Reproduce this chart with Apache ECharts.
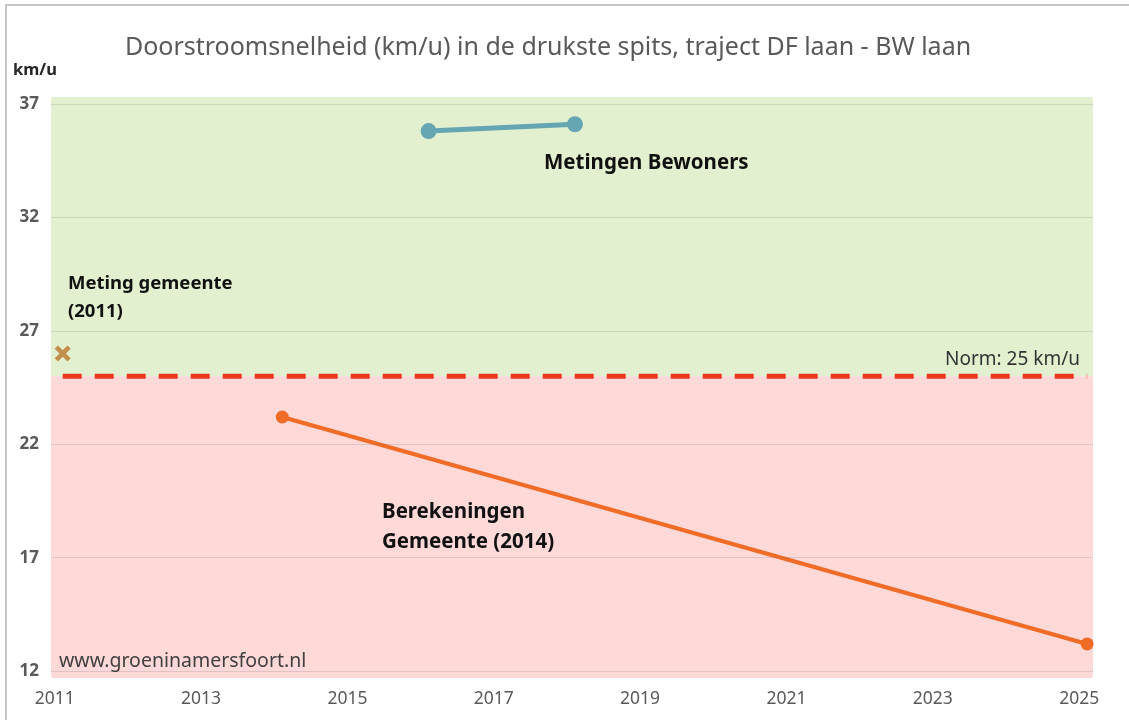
<!DOCTYPE html>
<html>
<head>
<meta charset="utf-8">
<script src="https://cdn.jsdelivr.net/npm/echarts@6/dist/echarts.min.js"></script>
<style>
  html, body { margin: 0; padding: 0; background: #fff; }
  #main { width: 1129px; height: 720px; }
</style>
</head>
<body>
<div id="main"></div>
<script>
// data
var yearTicks = [2011, 2013, 2015, 2017, 2019, 2021, 2023, 2025]
var speedTicks = [12, 17, 22, 27, 32, 37]
var bewonersYears = [2016, 2018]
var bewonersSpeed = [35.8, 36.1]
var gemeente2014Years = [2014, 2025]
var gemeente2014Speed = [23.2, 13.2]
var gemeente2011Years = [2011]
var gemeente2011Speed = [26]
var normYears = [2011, 2025]
var normSpeed = 25
var bandEdges = [11.7, 25, 37.3]

var font = '"Noto Sans", "Open Sans", sans-serif'

function pairs (xs, ys) {
  return xs.map(function (x, i) { return [x, Array.isArray(ys) ? ys[i] : ys] })
}

function label (x, y, text, font, fill, align, lineHeight) {
  return {
    type: 'text',
    x: x,
    y: y,
    z: 100,
    silent: true,
    style: {
      text: text,
      font: font,
      fill: fill,
      lineHeight: lineHeight,
      textAlign: align || 'left',
      textVerticalAlign: 'middle'
    }
  }
}

var chart = echarts.init(document.getElementById('main'))

var option = {
  backgroundColor: '#fff',
  animation: false,
  grid: { left: 51, right: 36, top: 97, bottom: 42 },
  xAxis: {
    type: 'value',
    min: 2010.84,
    max: 2025.08,
    axisLine: { show: false },
    axisTick: { show: false },
    splitLine: { show: false },
    axisLabel: {
      customValues: yearTicks,
      formatter: function (v) { return String(v) },
      margin: 12,
      padding: [0, 16, 0, 0],
      color: '#595959',
      fontSize: 17.5,
      fontFamily: font
    }
  },
  yAxis: {
    type: 'value',
    min: bandEdges[0],
    max: bandEdges[2],
    axisLine: { show: false },
    axisTick: { show: false, customValues: speedTicks },
    axisLabel: {
      customValues: speedTicks,
      margin: 12,
      color: '#595959',
      fontSize: 17,
      fontWeight: 'bold',
      fontFamily: font
    },
    splitLine: { show: false }
  },
  series: [
    {
      name: 'bands',
      type: 'line',
      z: 1,
      data: [],
      markArea: {
        silent: true,
        data: [
          [{ yAxis: bandEdges[1], itemStyle: { color: '#e2f0d0' } }, { yAxis: bandEdges[2] }],
          [{ yAxis: bandEdges[0], itemStyle: { color: '#ffd8d8' } }, { yAxis: bandEdges[1] }]
        ]
      },
      markLine: {
        silent: true,
        symbol: 'none',
        label: { show: false },
        lineStyle: { color: 'rgba(120,120,120,0.22)', width: 1, type: 'solid' },
        data: speedTicks.map(function (v) { return { yAxis: v } })
      }
    },
    {
      name: 'Norm',
      type: 'line',
      z: 2,
      symbol: 'none',
      lineStyle: { color: '#e8391d', width: 5, type: [19, 13] },
      data: pairs(normYears, normSpeed)
    },
    {
      name: 'Berekeningen Gemeente (2014)',
      type: 'line',
      z: 3,
      symbol: 'circle',
      symbolSize: 13,
      lineStyle: { color: '#f06b26', width: 4 },
      itemStyle: { color: '#f06b26' },
      data: pairs(gemeente2014Years, gemeente2014Speed)
    },
    {
      name: 'Metingen Bewoners',
      type: 'line',
      z: 3,
      symbol: 'circle',
      symbolSize: 16,
      lineStyle: { color: '#65a6b2', width: 5 },
      itemStyle: { color: '#65a6b2' },
      data: pairs(bewonersYears, bewonersSpeed)
    },
    {
      name: 'Meting gemeente (2011)',
      type: 'scatter',
      z: 3,
      symbol: 'path://M2,0 L5,3 L8,0 L10,2 L7,5 L10,8 L8,10 L5,7 L2,10 L0,8 L3,5 L0,2 Z',
      symbolSize: 16,
      itemStyle: { color: '#b9762a' },
      data: pairs(gemeente2011Years, gemeente2011Speed)
    }
  ],
  graphic: [
    {
      type: 'rect',
      silent: true,
      z: 100,
      shape: { x: 6, y: 5, width: 1200, height: 800 },
      style: { fill: 'none', stroke: '#c6c6c6', lineWidth: 2 }
    },
    label(548, 48, 'Doorstroomsnelheid (km/u) in de drukste spits, traject DF laan - BW laan', '25px ' + font, '#595959', 'center'),
    label(13, 70, 'km/u', 'bold 16.5px ' + font, '#262626'),
    label(544, 163, 'Metingen Bewoners', 'bold 20.5px ' + font, '#111'),
    label(68, 298, 'Meting gemeente\n(2011)', 'bold 18.5px ' + font, '#111', 'left', 28),
    label(1080, 360, 'Norm: 25 km/u', '19px ' + font, '#333', 'right'),
    label(382, 527, 'Berekeningen\nGemeente (2014)', 'bold 20.5px ' + font, '#111', 'left', 30),
    label(59, 661, 'www.groeninamersfoort.nl', '19.5px ' + font, '#404040')
  ]
}

option && chart.setOption(option)
</script>
</body>
</html>
